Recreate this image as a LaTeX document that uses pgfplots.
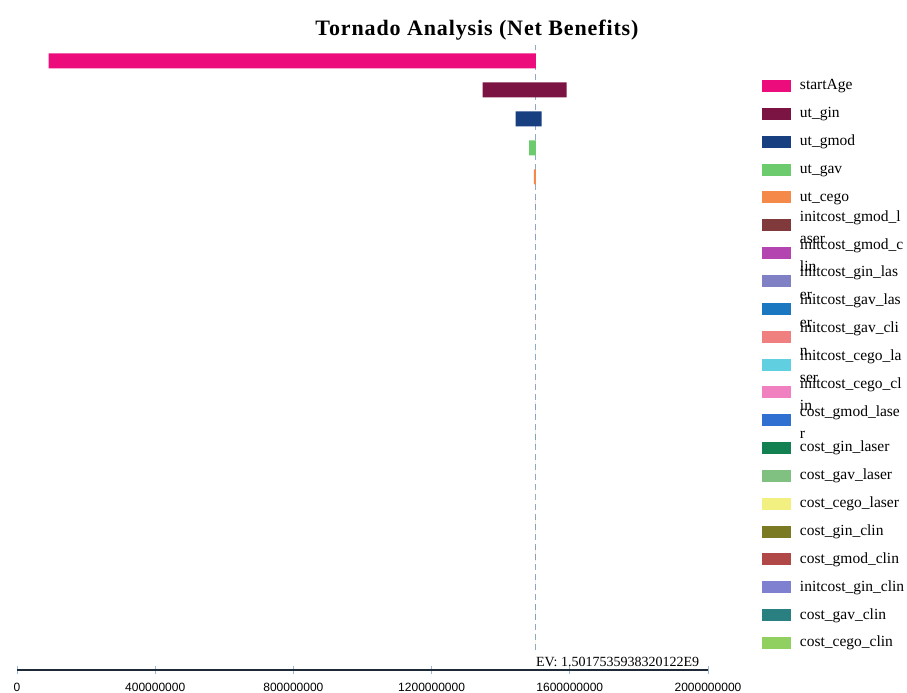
\documentclass[border=0pt]{standalone}
\usepackage{fontspec}
\setmainfont{Liberation Serif}
\newfontfamily\ticksfont{Liberation Sans}
\newfontfamily\titlefont[LetterSpace=4]{Liberation Serif}
\usepackage{pgfplots}
\pgfplotsset{compat=1.18}

\definecolor{cStartAge}{HTML}{EC0C7C}
\definecolor{cUtGin}{HTML}{7B1442}
\definecolor{cUtGmod}{HTML}{183F80}
\definecolor{cUtGav}{HTML}{6CCB6C}
\definecolor{cUtCego}{HTML}{F5894A}
\definecolor{cIgmodL}{HTML}{803A3C}
\definecolor{cIgmodC}{HTML}{B444B0}
\definecolor{cIginL}{HTML}{8080C4}
\definecolor{cIgavL}{HTML}{1B78C0}
\definecolor{cIgavC}{HTML}{F08080}
\definecolor{cIcegoL}{HTML}{60D0E0}
\definecolor{cIcegoC}{HTML}{F080C0}
\definecolor{cCgmodL}{HTML}{3070D0}
\definecolor{cCginL}{HTML}{128050}
\definecolor{cCgavL}{HTML}{80C080}
\definecolor{cCcegoL}{HTML}{F2F080}
\definecolor{cCginC}{HTML}{7A7A22}
\definecolor{cCgmodC}{HTML}{B04848}
\definecolor{cIginC}{HTML}{8080D0}
\definecolor{cCgavC}{HTML}{2A8080}
\definecolor{cCcegoC}{HTML}{90D060}
\definecolor{tickblue}{HTML}{9DB8CF}
\definecolor{evline}{HTML}{8FAAC2}
\definecolor{axisdark}{HTML}{1E2A38}

\newcommand{\one}[1]{\smash{\raisebox{-4.6bp}{#1}}}
\newcommand{\two}[2]{\smash{\raisebox{3.4bp}{\begin{tabular}[t]{@{}l@{}}#1\\[3.9bp]#2\end{tabular}}}}

\begin{document}
\begin{tikzpicture}
\path[use as bounding box] (0,0) rectangle (907bp,693bp);
\begin{axis}[
  at={(17bp,23bp)}, anchor=south west,
  scale only axis, width=691bp, height=625bp,
  xmin=0, xmax=2000000000, ymin=-1, ymax=20.55,
  axis x line=bottom, axis y line=none,
  x axis line style={-, color=axisdark, line width=1.2bp},
  xtick={0,400000000,800000000,1200000000,1600000000,2000000000},
  xticklabels={0,400000000,800000000,1200000000,1600000000,2000000000},
  scaled x ticks=false,
  minor xtick={},
  major tick length=8bp, tick align=center,
  xtick style={color=tickblue, line width=0.7bp},
  xticklabel style={font=\ticksfont\fontsize{12bp}{14bp}\selectfont, anchor=north, inner sep=0pt, yshift=-8.5bp},
  title={Tornado Analysis (Net Benefits)},
  title style={at={(axis description cs:0.6657,1.0144)}, anchor=center, font=\titlefont\bfseries\fontsize{22bp}{26bp}\selectfont},
  clip=false,
  legend cell align=left,
  legend image code/.code={\fill[#1] (0bp,-6bp) rectangle (29bp,6bp);},
  legend style={at={(axis description cs:1.0781,0.9566)}, anchor=north west,
    draw=none, fill=none, inner sep=0pt, outer sep=0pt,
    row sep=0pt, column sep=9bp,
    font=\fontsize{15.5bp}{18.6bp}\selectfont,
    nodes={inner sep=0pt, minimum height=27.85bp}},
]
% EV reference line
\addplot[forget plot, color=evline, line width=0.8bp, dash pattern=on 6bp off 4bp]
  coordinates {(1501753593.8,-0.3) (1501753593.8,20.55)};

% bars: (low,y-0.26) (high,y-0.26) (high,y+0.26) (low,y+0.26)
\addplot[fill=cStartAge, draw=none] coordinates {(91500000,19.74) (1501753593.8,19.74) (1501753593.8,20.26) (91500000,20.26) (91500000,19.74)};
\addlegendentry{\one{startAge}}
\addplot[fill=cUtGin, draw=none] coordinates {(1347800000,18.74) (1590800000,18.74) (1590800000,19.26) (1347800000,19.26) (1347800000,18.74)};
\addlegendentry{\one{ut\_gin}}
\addplot[fill=cUtGmod, draw=none] coordinates {(1443300000,17.74) (1518500000,17.74) (1518500000,18.26) (1443300000,18.26) (1443300000,17.74)};
\addlegendentry{\one{ut\_gmod}}
\addplot[fill=cUtGav, draw=none] coordinates {(1482600000,16.74) (1501753593.8,16.74) (1501753593.8,17.26) (1482600000,17.26) (1482600000,16.74)};
\addlegendentry{\one{ut\_gav}}
\addplot[fill=cUtCego, draw=none] coordinates {(1496200000,15.74) (1501753593.8,15.74) (1501753593.8,16.26) (1496200000,16.26) (1496200000,15.74)};
\addlegendentry{\one{ut\_cego}}
\addplot[fill=cIgmodL, draw=none] coordinates {(1501753593.8,14.74) (1501753593.8,15.26)};
\addlegendentry{\two{initcost\_gmod\_l}{aser}}
\addplot[fill=cIgmodC, draw=none] coordinates {(1501753593.8,13.74) (1501753593.8,14.26)};
\addlegendentry{\two{initcost\_gmod\_c}{lin}}
\addplot[fill=cIginL, draw=none] coordinates {(1501753593.8,12.74) (1501753593.8,13.26)};
\addlegendentry{\two{initcost\_gin\_las}{er}}
\addplot[fill=cIgavL, draw=none] coordinates {(1501753593.8,11.74) (1501753593.8,12.26)};
\addlegendentry{\two{initcost\_gav\_las}{er}}
\addplot[fill=cIgavC, draw=none] coordinates {(1501753593.8,10.74) (1501753593.8,11.26)};
\addlegendentry{\two{initcost\_gav\_cli}{n}}
\addplot[fill=cIcegoL, draw=none] coordinates {(1501753593.8,9.74) (1501753593.8,10.26)};
\addlegendentry{\two{initcost\_cego\_la}{ser}}
\addplot[fill=cIcegoC, draw=none] coordinates {(1501753593.8,8.74) (1501753593.8,9.26)};
\addlegendentry{\two{initcost\_cego\_cl}{in}}
\addplot[fill=cCgmodL, draw=none] coordinates {(1501753593.8,7.74) (1501753593.8,8.26)};
\addlegendentry{\two{cost\_gmod\_lase}{r}}
\addplot[fill=cCginL, draw=none] coordinates {(1501753593.8,6.74) (1501753593.8,7.26)};
\addlegendentry{\one{cost\_gin\_laser}}
\addplot[fill=cCgavL, draw=none] coordinates {(1501753593.8,5.74) (1501753593.8,6.26)};
\addlegendentry{\one{cost\_gav\_laser}}
\addplot[fill=cCcegoL, draw=none] coordinates {(1501753593.8,4.74) (1501753593.8,5.26)};
\addlegendentry{\one{cost\_cego\_laser}}
\addplot[fill=cCginC, draw=none] coordinates {(1501753593.8,3.74) (1501753593.8,4.26)};
\addlegendentry{\one{cost\_gin\_clin}}
\addplot[fill=cCgmodC, draw=none] coordinates {(1501753593.8,2.74) (1501753593.8,3.26)};
\addlegendentry{\one{cost\_gmod\_clin}}
\addplot[fill=cIginC, draw=none] coordinates {(1501753593.8,1.74) (1501753593.8,2.26)};
\addlegendentry{\one{initcost\_gin\_clin}}
\addplot[fill=cCgavC, draw=none] coordinates {(1501753593.8,0.74) (1501753593.8,1.26)};
\addlegendentry{\one{cost\_gav\_clin}}
\addplot[fill=cCcegoC, draw=none] coordinates {(1501753593.8,-0.26) (1501753593.8,0.26)};
\addlegendentry{\one{cost\_cego\_clin}}

\node[anchor=west, inner sep=0pt, font=\fontsize{14bp}{16bp}\selectfont] at (axis cs:1501753593.8,-0.72) {EV: 1.5017535938320122E9};
\end{axis}
\end{tikzpicture}
\end{document}
